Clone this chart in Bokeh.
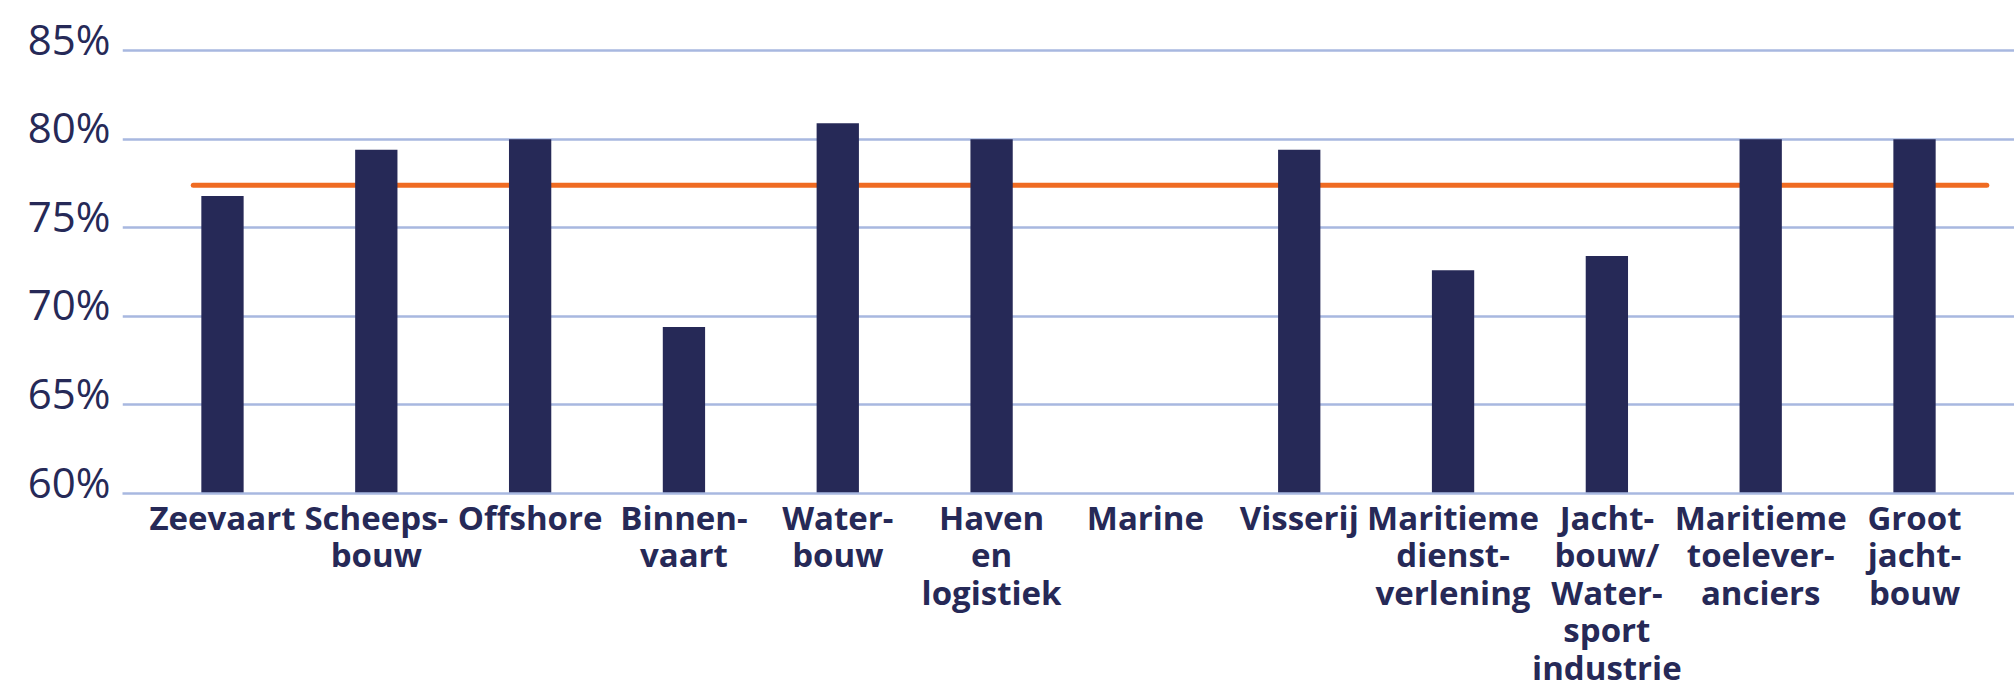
from bokeh.plotting import figure
from bokeh.models import FactorRange, Range1d, FixedTicker, PrintfTickFormatter
from bokeh.embed import file_html
from bokeh.resources import INLINE

# ---- data ----
categories = [
    "Zeevaart",
    "Scheeps-\nbouw",
    "Offshore",
    "Binnen-\nvaart",
    "Water-\nbouw",
    "Haven\nen\nlogistiek",
    "Marine",
    "Visserij",
    "Maritieme\ndienst-\nverlening",
    "Jacht-\nbouw/\nWater-\nsport\nindustrie",
    "Maritieme\ntoelever-\nanciers",
    "Groot\njacht-\nbouw",
]
values = [76.8, 79.4, 80.0, 69.4, 80.9, 80.0, float("nan"), 79.4, 72.6, 73.4, 80.0, 80.0]
average = 77.4
y_ticks = [60, 65, 70, 75, 80, 85]
label_lift = 0.7  # tick labels sit slightly above their gridline
y_label_pos = [t + label_lift for t in y_ticks]

NAVY = "#262957"
ORANGE = "#ef6b22"
GRID = "#a8b8e0"

p = figure(
    width=2014, height=692,
    x_range=FactorRange(factors=categories, range_padding=0.025),
    y_range=Range1d(60, 86.7),
    output_backend="svg", toolbar_location=None,
    min_border_left=122, min_border_right=0, min_border_top=20, min_border_bottom=0,
)
p.outline_line_color = None
p.background_fill_color = "white"
p.border_fill_color = "white"

# grid
p.xgrid.grid_line_color = None
p.ygrid.ticker = FixedTicker(ticks=y_ticks)
p.ygrid.grid_line_color = GRID
p.ygrid.grid_line_width = 2.5

# y axis
p.yaxis.ticker = FixedTicker(ticks=y_label_pos)
p.yaxis.formatter = PrintfTickFormatter(format="%d%%")
p.yaxis.axis_line_color = None
p.yaxis.major_tick_line_color = None
p.yaxis.minor_tick_line_color = None
p.yaxis.major_tick_out = 0
p.yaxis.major_tick_in = 0
p.yaxis.major_label_standoff = 12
p.yaxis.major_label_text_font = "Open Sans"
p.yaxis.major_label_text_font_size = "42px"
p.yaxis.major_label_text_color = NAVY

# x axis
p.xaxis.axis_line_color = GRID
p.xaxis.axis_line_width = 2.5
p.xaxis.major_tick_line_color = None
p.xaxis.minor_tick_line_color = None
p.xaxis.major_tick_out = 0
p.xaxis.major_tick_in = 0
p.xaxis.major_label_standoff = 1
p.xaxis.major_label_text_font = "Open Sans"
p.xaxis.major_label_text_font_style = "bold"
p.xaxis.major_label_text_font_size = "33px"
p.xaxis.major_label_text_color = NAVY
p.xaxis.major_label_text_line_height = 0.835
p.xaxis.major_label_orientation = "horizontal"

# average line (drawn below bars)
p.line(x=[(categories[0], -0.19), (categories[-1], 0.47)], y=[average, average],
       line_color=ORANGE, line_width=5, line_cap="round")

# bars
p.vbar(x=categories, top=values, bottom=y_ticks[0], width=0.275,
       fill_color=NAVY, line_color=None)

open("out.html", "w").write(file_html(p, INLINE))
